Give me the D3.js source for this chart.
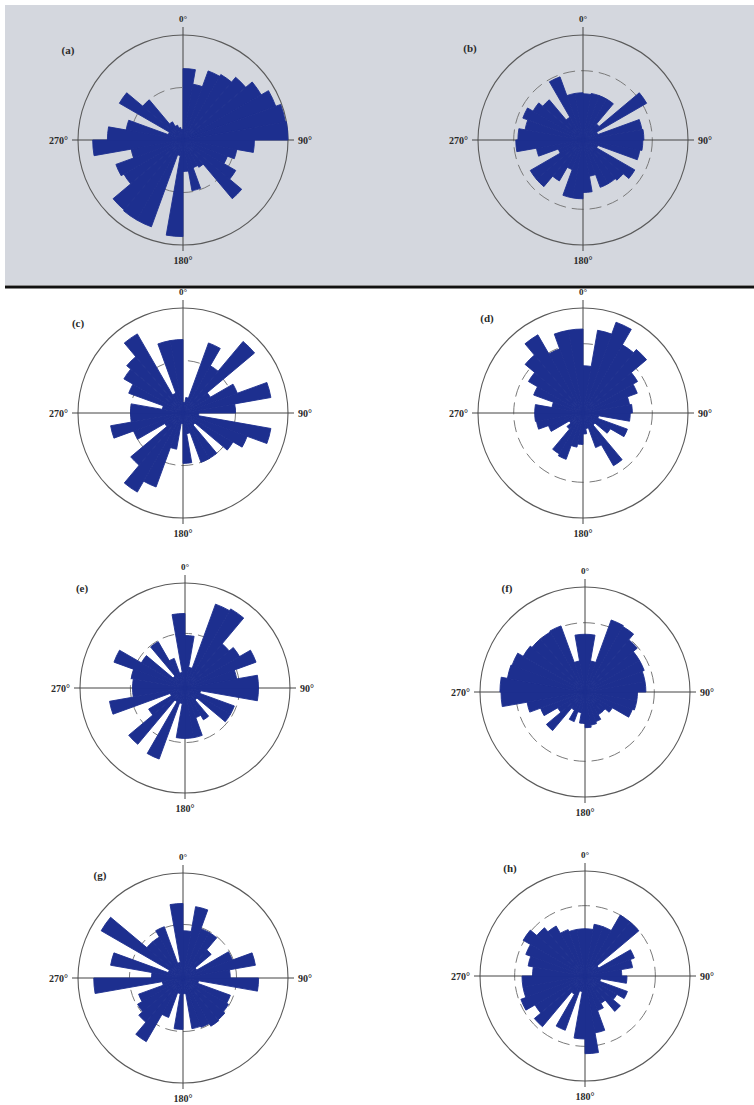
<!DOCTYPE html>
<html>
<head>
<meta charset="utf-8">
<script src="https://cdn.jsdelivr.net/npm/d3@7"></script>
<style>
  html, body { margin: 0; padding: 0; background: #fff; }
  svg { display: block; }
</style>
</head>
<body>
<svg id="chart" width="754" height="1105"></svg>
<script>
// ---- data: 36 direction bins of 10°, petal length on a 0–10 scale (outer ring = 10) ----
const binStarts = d3.range(0, 360, 10);
const panelLabels = ["(a)", "(b)", "(c)", "(d)", "(e)", "(f)", "(g)", "(h)"];
const axisLabels = ["0°", "90°", "180°", "270°"];
const dashedRing = [5.0, 6.6, 5.0, 6.6, 5.2, 6.6, 5.1, 6.7];

const roseA = [6.8,5.4,7.0,7.2,7.8,8.6,9.4,9.9,10.0,6.8,5.2,4.5,5.8,7.3,3.0,2.8,4.9,3.0,9.2,1.5,8.8,8.8,8.7,6.5,6.8,5.0,8.6,7.2,5.5,1.5,7.0,5.0,2.0,1.5,1.2,1.0];
const roseB = [4.4,4.5,4.5,4.5,2.0,7.0,1.5,5.7,5.8,5.7,5.5,1.5,5.7,5.0,4.8,4.8,3.5,5.0,5.6,5.6,3.0,4.5,5.8,5.8,2.5,4.5,6.4,6.2,5.6,6.1,5.5,5.0,2.5,6.4,4.5,4.5];
const roseC = [1.0,1.5,7.1,5.2,8.9,3.0,5.5,8.5,5.0,1.5,8.5,6.5,5.5,1.5,5.0,5.0,2.0,4.8,1.0,3.5,7.5,8.7,6.5,2.0,5.0,7.0,5.0,5.0,2.0,5.5,6.5,7.0,8.7,2.0,7.0,7.0];
const roseD = [4.5,8.0,9.2,7.5,7.9,6.0,5.5,4.5,4.7,4.5,1.5,4.5,3.0,1.5,5.8,3.5,1.5,2.0,3.0,3.3,4.7,4.5,2.0,1.5,3.5,4.5,4.6,4.6,3.0,5.0,6.0,7.2,8.6,6.5,8.0,8.0];
const roseE = [5.0,2.0,8.5,8.7,5.5,6.0,7.2,5.0,7.0,7.0,1.5,5.0,5.0,1.5,3.5,3.0,4.8,4.8,4.8,1.5,7.2,1.5,7.0,4.0,1.5,7.3,5.0,5.0,5.2,7.2,4.8,1.5,5.1,3.0,1.5,7.1];
const roseF = [5.5,3.0,7.3,7.2,6.5,6.0,6.0,5.8,5.8,5.0,5.0,4.8,3.0,2.5,2.5,3.0,3.2,3.4,3.0,2.0,3.0,2.0,4.8,3.0,4.5,5.6,8.0,8.1,7.5,7.4,6.8,6.6,6.6,6.7,3.0,5.5];
const roseG = [4.5,6.9,5.0,5.0,3.5,1.5,5.0,7.0,4.5,7.2,1.5,4.8,5.0,5.2,5.3,5.0,4.9,1.5,4.9,1.5,4.0,7.0,5.5,5.0,4.5,2.0,8.5,3.0,7.0,1.5,9.0,4.5,4.5,5.2,1.5,7.1];
const roseH = [4.5,5.0,5.0,6.7,6.7,1.5,5.0,4.6,3.5,4.0,1.5,4.3,3.5,4.4,3.0,3.5,5.5,7.4,6.0,1.5,5.5,2.0,6.3,5.5,6.5,6.0,6.0,5.0,5.5,6.0,6.8,6.0,5.5,4.7,4.5,4.5];
const roses = [roseA, roseB, roseC, roseD, roseE, roseF, roseG, roseH];

// ---- layout ----
const centers = [[183,140],[583,140],[183,413],[583,413],[185,688],[585,692],[183,978],[585,976]];
const labelPos = [[68,50],[470,48],[78,323],[487,318],[82,588],[507,588],[100,875],[510,868]];
const R = 105;
const petalColor = "#1d2f8f";

const svg = d3.select("#chart");

// top shaded band and separator
svg.append("rect").attr("x", 5).attr("y", 5).attr("width", 749).attr("height", 280)
  .attr("fill", "#d4d7de");
svg.append("line").attr("x1", 5).attr("x2", 754).attr("y1", 287).attr("y2", 287)
  .attr("stroke", "#111").attr("stroke-width", 3);

const rScale = d3.scaleLinear().domain([0, 10]).range([0, R]);
const toRad = d => d * Math.PI / 180;
const arc = d3.arc().innerRadius(0)
  .startAngle(d => toRad(d.a))
  .endAngle(d => toRad(d.a + 10))
  .outerRadius(d => rScale(d.v));

roses.forEach((vals, i) => {
  const [cx, cy] = centers[i];
  const g = svg.append("g").attr("transform", `translate(${cx},${cy})`);

  // outer ring
  g.append("circle").attr("r", rScale(10)).attr("fill", "none")
    .attr("stroke", "#5a5a5a").attr("stroke-width", 1.1);
  // dashed inner ring
  g.append("circle").attr("r", rScale(dashedRing[i])).attr("fill", "none")
    .attr("stroke", "#7a7a7a").attr("stroke-width", 1)
    .attr("stroke-dasharray", "12,6");
  // cross
  g.append("line").attr("x1", 0).attr("x2", 0).attr("y1", -R - 8).attr("y2", R + 6)
    .attr("stroke", "#444").attr("stroke-width", 1);
  g.append("line").attr("x1", -R - 6).attr("x2", R + 6).attr("y1", 0).attr("y2", 0)
    .attr("stroke", "#444").attr("stroke-width", 1);

  // petals
  g.selectAll("path.petal")
    .data(binStarts.map((a, k) => ({ a, v: vals[k] })))
    .join("path")
    .attr("class", "petal")
    .attr("d", arc)
    .attr("fill", petalColor)
    .attr("stroke", petalColor)
    .attr("stroke-width", 0.9)
    .attr("stroke-linejoin", "miter");

  // axis labels
  const font = "'Liberation Serif', 'DejaVu Serif', serif";
  g.append("text").text(axisLabels[0]).attr("x", 0).attr("y", -R - 13)
    .attr("text-anchor", "middle").attr("font-family", font).attr("font-weight", "bold")
    .attr("font-size", 9).attr("fill", "#2a2a2a");
  g.append("text").text(axisLabels[1]).attr("x", R + 10).attr("y", 4)
    .attr("text-anchor", "start").attr("font-family", font).attr("font-weight", "bold")
    .attr("font-size", 10).attr("fill", "#2a2a2a");
  g.append("text").text(axisLabels[2]).attr("x", 0).attr("y", R + 19)
    .attr("text-anchor", "middle").attr("font-family", font).attr("font-weight", "bold")
    .attr("font-size", 10).attr("fill", "#2a2a2a");
  g.append("text").text(axisLabels[3]).attr("x", -R - 10).attr("y", 4)
    .attr("text-anchor", "end").attr("font-family", font).attr("font-weight", "bold")
    .attr("font-size", 10).attr("fill", "#2a2a2a");

  // panel label
  svg.append("text").text(panelLabels[i])
    .attr("x", labelPos[i][0]).attr("y", labelPos[i][1] + 4)
    .attr("text-anchor", "middle").attr("font-family", font).attr("font-weight", "bold")
    .attr("font-size", 11).attr("fill", "#2a2a2a");
});
</script>
</body>
</html>
